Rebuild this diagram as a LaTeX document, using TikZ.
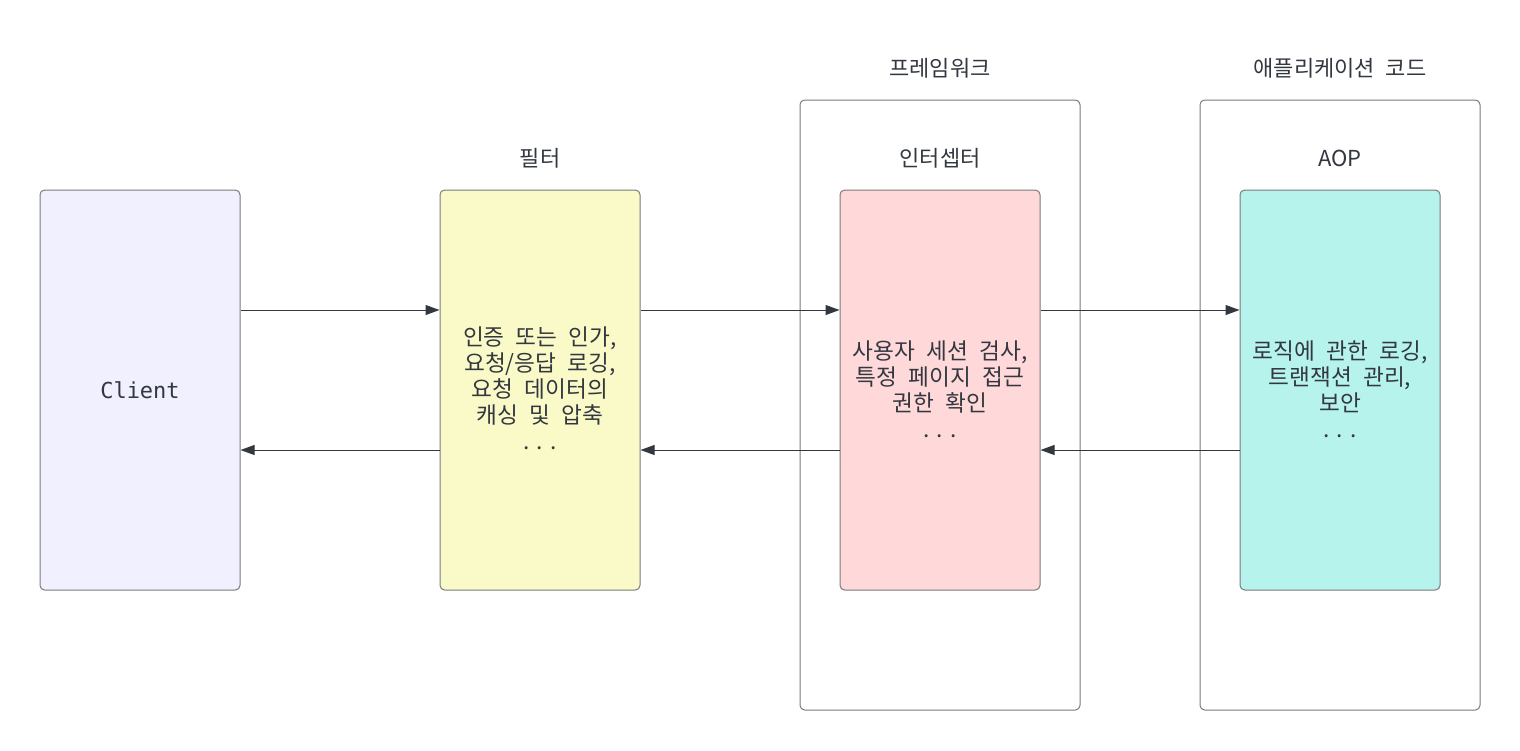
\documentclass[tikz,border=0pt]{standalone}
\usepackage{fontspec}
\usetikzlibrary{arrows.meta}
\newfontfamily\krfont{Noto Sans CJK KR}
\newfontfamily\krbox[WordSpace=2.2]{Noto Sans CJK KR}
\newfontfamily\monofont{DejaVu Sans Mono}
\definecolor{txt}{HTML}{333840}
\definecolor{edge}{HTML}{7A7A7A}
\definecolor{arrowc}{HTML}{333840}
\definecolor{clientfill}{HTML}{F0F0FF}
\definecolor{filterfill}{HTML}{FAFAC8}
\definecolor{interfill}{HTML}{FFD8DA}
\definecolor{aopfill}{HTML}{B5F3EC}
\newcommand{\mydots}{\makebox[0.6em]{.}\makebox[0.6em]{.}\makebox[0.6em]{.}}
\tikzset{
  px/.style={x=0.75pt,y=-0.75pt},
  procbox/.style={draw=edge, line width=0.75pt, rounded corners=3.5pt, minimum width=150pt, minimum height=300pt, inner sep=0pt},
  container/.style={draw=edge, line width=0.75pt, rounded corners=3.5pt, fill=white, minimum width=210pt, minimum height=457.5pt, inner sep=0pt},
  boxtext/.style={text=txt, font=\krbox\fontsize{17pt}{19.5pt}\selectfont, align=center},
  title/.style={text=txt, font=\krfont\fontsize{16.5pt}{18pt}\selectfont},
  arr/.style={draw=arrowc, line width=0.75pt, -{Triangle[length=10.5pt,width=7.5pt]}}
}
\begin{document}
\begin{tikzpicture}[px]
\useasboundingbox (0,0) rectangle (1520,750);
% containers
\node[container] (fw) at (940,405) {};
\node[container] (app) at (1340,405) {};
\node[title] (fwlabel) at (940,68) {프레임워크};
\node[title] (applabel) at (1340,68) {애플리케이션 코드};
% boxes
\node[procbox, fill=clientfill] (client) at (140,390) {};
\node[text=txt, font=\monofont\fontsize{16.5pt}{18pt}\selectfont] (clienttext) at (140,390) {Client};
\node[procbox, fill=filterfill] (filter) at (540,390) {};
\node[procbox, fill=interfill] (inter) at (940,390) {};
\node[procbox, fill=aopfill] (aop) at (1340,390) {};
\node[title] (filterlabel) at (540,158) {필터};
\node[title] (interlabel) at (940,158) {인터셉터};
\node[title] (aoplabel) at (1340,158) {AOP};
\node[boxtext] (filtertext) at (540,388) {인증 또는 인가,\\요청/응답 로깅,\\요청 데이터의\\캐싱 및 압축\\\mydots};
\node[boxtext] (intertext) at (940,389) {사용자 세션 검사,\\특정 페이지 접근\\권한 확인\\\mydots};
\node[boxtext] (aoptext) at (1340,389) {로직에 관한 로깅,\\트랜잭션 관리,\\보안\\\mydots};
% arrows forward
\draw[arr] ([yshift=60pt]client.east) -- ([yshift=60pt]filter.west);
\draw[arr] ([yshift=60pt]filter.east) -- ([yshift=60pt]inter.west);
\draw[arr] ([yshift=60pt]inter.east) -- ([yshift=60pt]aop.west);
% arrows back
\draw[arr] ([yshift=-45pt]filter.west) -- ([yshift=-45pt]client.east);
\draw[arr] ([yshift=-45pt]inter.west) -- ([yshift=-45pt]filter.east);
\draw[arr] ([yshift=-45pt]aop.west) -- ([yshift=-45pt]inter.east);
\end{tikzpicture}
\end{document}
